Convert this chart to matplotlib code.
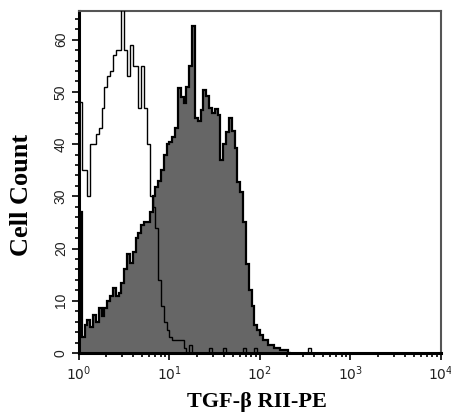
import numpy as np
import matplotlib
matplotlib.use("Agg")
import matplotlib.pyplot as plt
from matplotlib.ticker import FixedLocator, LogLocator, NullFormatter

# Histogram channels: 32 per decade starting at 10^0
channels_per_decade = 32

# Isotype control (open histogram)
control_counts = [
    48, 35, 35, 30, 40, 40, 42, 43, 47, 51,
    53, 54, 57, 58, 58, 66, 58, 53, 59, 55,
    55, 47, 55, 47, 40, 30, 28, 24, 14, 9,
    6, 4.4, 3, 2.5, 2.5, 2.5, 2.5, 1, 0, 1.5,
    0, 0, 0, 0, 0, 0, 1, 0, 0, 0,
    0, 1, 0, 0, 0, 0, 0, 0, 1, 0,
    0, 0, 1, 0, 0, 0, 0, 0, 0, 0,
    0, 0, 0, 0, 0, 0, 0, 0, 0, 0,
    0, 1, 0, 0,
]

# TGF-beta RII stained sample (filled histogram)
sample_counts = [
    27, 3, 5.4, 6.3, 5, 7.3, 6, 8.6, 7, 8.6,
    10, 11, 12.4, 11, 11.5, 13.4, 16, 19, 17.3, 19.3,
    22, 23, 24.5, 25, 25, 27, 30, 31.7, 33, 35,
    37.9, 40, 40.5, 41.3, 43, 50.7, 49, 47.8, 51, 55,
    62.7, 45, 44.5, 46.5, 50.3, 49.3, 47, 45.9, 46.8, 45.5,
    37, 40, 42.3, 45, 42.6, 39.2, 32.7, 30.8, 25, 17,
    12, 9, 5.4, 4.4, 3.4, 2.5, 2.5, 1.5, 1.5, 1,
    1, 0.5, 0.5, 0.5, 0,
]

y_ticks = [0, 10, 20, 30, 40, 50, 60]
x_ticks = [1, 10, 100, 1000, 10000]
x_tick_labels = [r"$10^0$", r"$10^1$", r"$10^2$", r"$10^3$", r"$10^4$"]

fig = plt.figure(figsize=(4.52, 4.17), dpi=100)
ax = fig.add_axes([79 / 452, 1 - 353 / 417, (441 - 79) / 452, (353 - 11) / 417])

ctrl = np.array(control_counts, dtype=float)
samp = np.array(sample_counts, dtype=float)
ctrl_edges = 10 ** (np.arange(len(ctrl) + 1) / channels_per_decade)
samp_edges = 10 ** (np.arange(len(samp) + 1) / channels_per_decade)

ax.stairs(samp, samp_edges, fill=True, color="#666666", zorder=1)
ax.stairs(samp, samp_edges, color="black", linewidth=1.6, zorder=2)
ax.stairs(ctrl, ctrl_edges, color="black", linewidth=1.0, zorder=3)

ax.set_xscale("log")
ax.set_xlim(1, 10000)
ax.set_ylim(0, 65.5)

ax.set_xticks(x_ticks)
ax.set_xticklabels(x_tick_labels)
ax.xaxis.set_minor_locator(LogLocator(base=10, subs=np.arange(2, 10)))
ax.xaxis.set_minor_formatter(NullFormatter())
ax.set_yticks(y_ticks)
ax.set_yticklabels([str(v) for v in y_ticks], rotation=90, va="center")
ax.yaxis.set_minor_locator(FixedLocator(np.arange(0, 66, 2)))

ax.tick_params(axis="both", which="major", direction="out", length=5, width=1.2,
               labelsize=10, colors="black")
ax.tick_params(axis="both", which="minor", direction="out", length=3, width=1.2)
ax.tick_params(axis="x", pad=3)
ax.tick_params(axis="y", pad=3)
for lab in ax.get_xticklabels() + ax.get_yticklabels():
    lab.set_fontfamily("Liberation Sans")
    lab.set_color("#222222")

for side in ("left", "bottom"):
    ax.spines[side].set_linewidth(2.2)
    ax.spines[side].set_color("black")
for side in ("top", "right"):
    ax.spines[side].set_linewidth(1.5)
    ax.spines[side].set_color("#555555")

fig.text(257 / 452, 1 - 402 / 417, "TGF-β RII-PE", ha="center", va="center",
         fontsize=16, fontweight="bold", family="Liberation Serif")
fig.text(22 / 452, 1 - 195 / 417, "Cell Count", ha="center", va="center",
         rotation=90, fontsize=19, fontweight="bold", family="Liberation Serif")

fig.savefig("out.png", dpi=100)
